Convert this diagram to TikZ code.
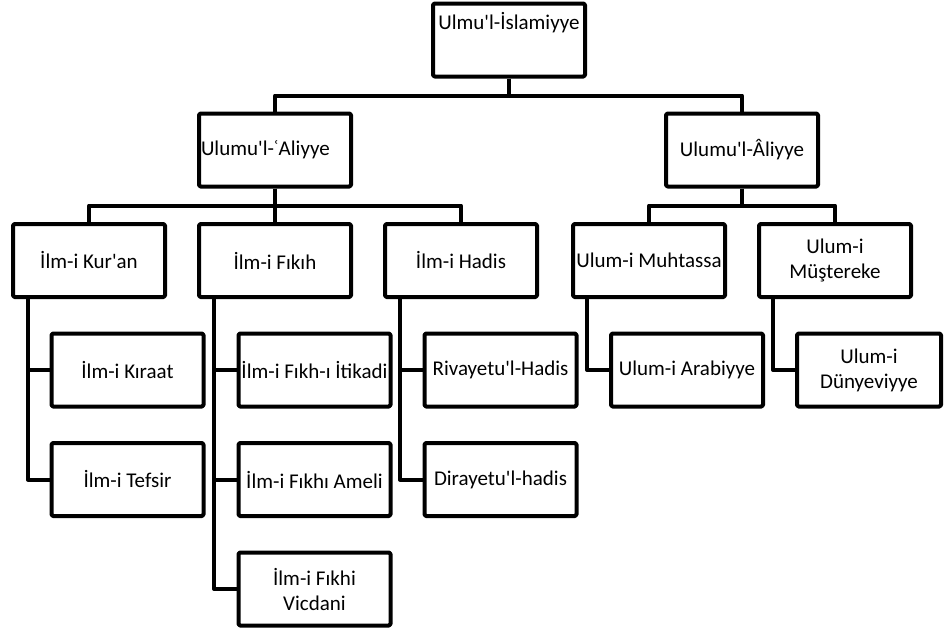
\documentclass[tikz,border=0pt]{standalone}
\usepackage{fontspec}
\setmainfont{Carlito}[Ligatures=TeXOff]
\begin{document}
\begin{tikzpicture}[x=1pt,y=-1pt,line join=round,
  box/.style={draw,line width=4pt,rounded corners=1.5pt,minimum width=152pt,minimum height=73pt,inner sep=1pt,align=center,font=\fontsize{21}{25}\selectfont},
  link/.style={line width=4pt}]
\useasboundingbox (0,0) rectangle (944,632);

\node[box] (islamiyye) at (509,40) {Ulmu'l-İslamiyye\\[5pt]\strut};
\node[box,text width=148pt,align=left] (aliyye) at (275,150) {Ulumu'l-ʿAliyye};
\node[box] (aliyye2) at (742,150) {Ulumu'l-Âliyye};

\node[box] (kuran) at (89,260.5) {İlm-i Kur'an};
\node[box] (fikih) at (275,260.5) {İlm-i Fıkıh};
\node[box] (hadis) at (461,260.5) {İlm-i Hadis};
\node[box] (muhtassa) at (649,260.5) {Ulum-i Muhtassa};
\node[box] (mustereke) at (835,260.5) {Ulum-i\\Müştereke};

\node[box] (kiraat) at (127.5,370) {İlm-i Kıraat};
\node[box] (tefsir) at (127.5,479.5) {İlm-i Tefsir};
\node[box] (itikadi) at (314.5,370) {İlm-i Fıkh-ı İtikadi};
\node[box] (ameli) at (314.5,479.5) {İlm-i Fıkhı Ameli};
\node[box] (vicdani) at (314.5,589) {İlm-i Fıkhi\\Vicdani};
\node[box] (rivayet) at (500.5,370) {Rivayetu'l-Hadis};
\node[box] (dirayet) at (500.5,479.5) {Dirayetu'l-hadis};
\node[box] (arabiyye) at (687,370) {Ulum-i Arabiyye};
\node[box,minimum width=144pt] (dunyeviyye) at (869,370) {Ulum-i\\Dünyeviyye};

% top level
\draw[link] (islamiyye.south) -- ++(0,17) -| (aliyye.north);
\draw[link] (islamiyye.south) -- ++(0,17) -| (aliyye2.north);

% second level
\draw[link] (aliyye.south) -- ++(0,17) -| (kuran.north);
\draw[link] (aliyye.south) -- (fikih.north);
\draw[link] (aliyye.south) -- ++(0,17) -| (hadis.north);
\draw[link] (aliyye2.south) -- ++(0,17) -| (muhtassa.north);
\draw[link] (aliyye2.south) -- ++(0,17) -| (mustereke.north);

% third level
\draw[link] ([xshift=17pt]kuran.south west) |- (kiraat.west);
\draw[link] ([xshift=17pt]kuran.south west) |- (tefsir.west);
\draw[link] ([xshift=17pt]fikih.south west) |- (itikadi.west);
\draw[link] ([xshift=17pt]fikih.south west) |- (ameli.west);
\draw[link] ([xshift=17pt]fikih.south west) |- (vicdani.west);
\draw[link] ([xshift=17pt]hadis.south west) |- (rivayet.west);
\draw[link] ([xshift=17pt]hadis.south west) |- (dirayet.west);
\draw[link] ([xshift=16pt]muhtassa.south west) |- (arabiyye.west);
\draw[link] ([xshift=16pt]mustereke.south west) |- (dunyeviyye.west);

\end{tikzpicture}
\end{document}
